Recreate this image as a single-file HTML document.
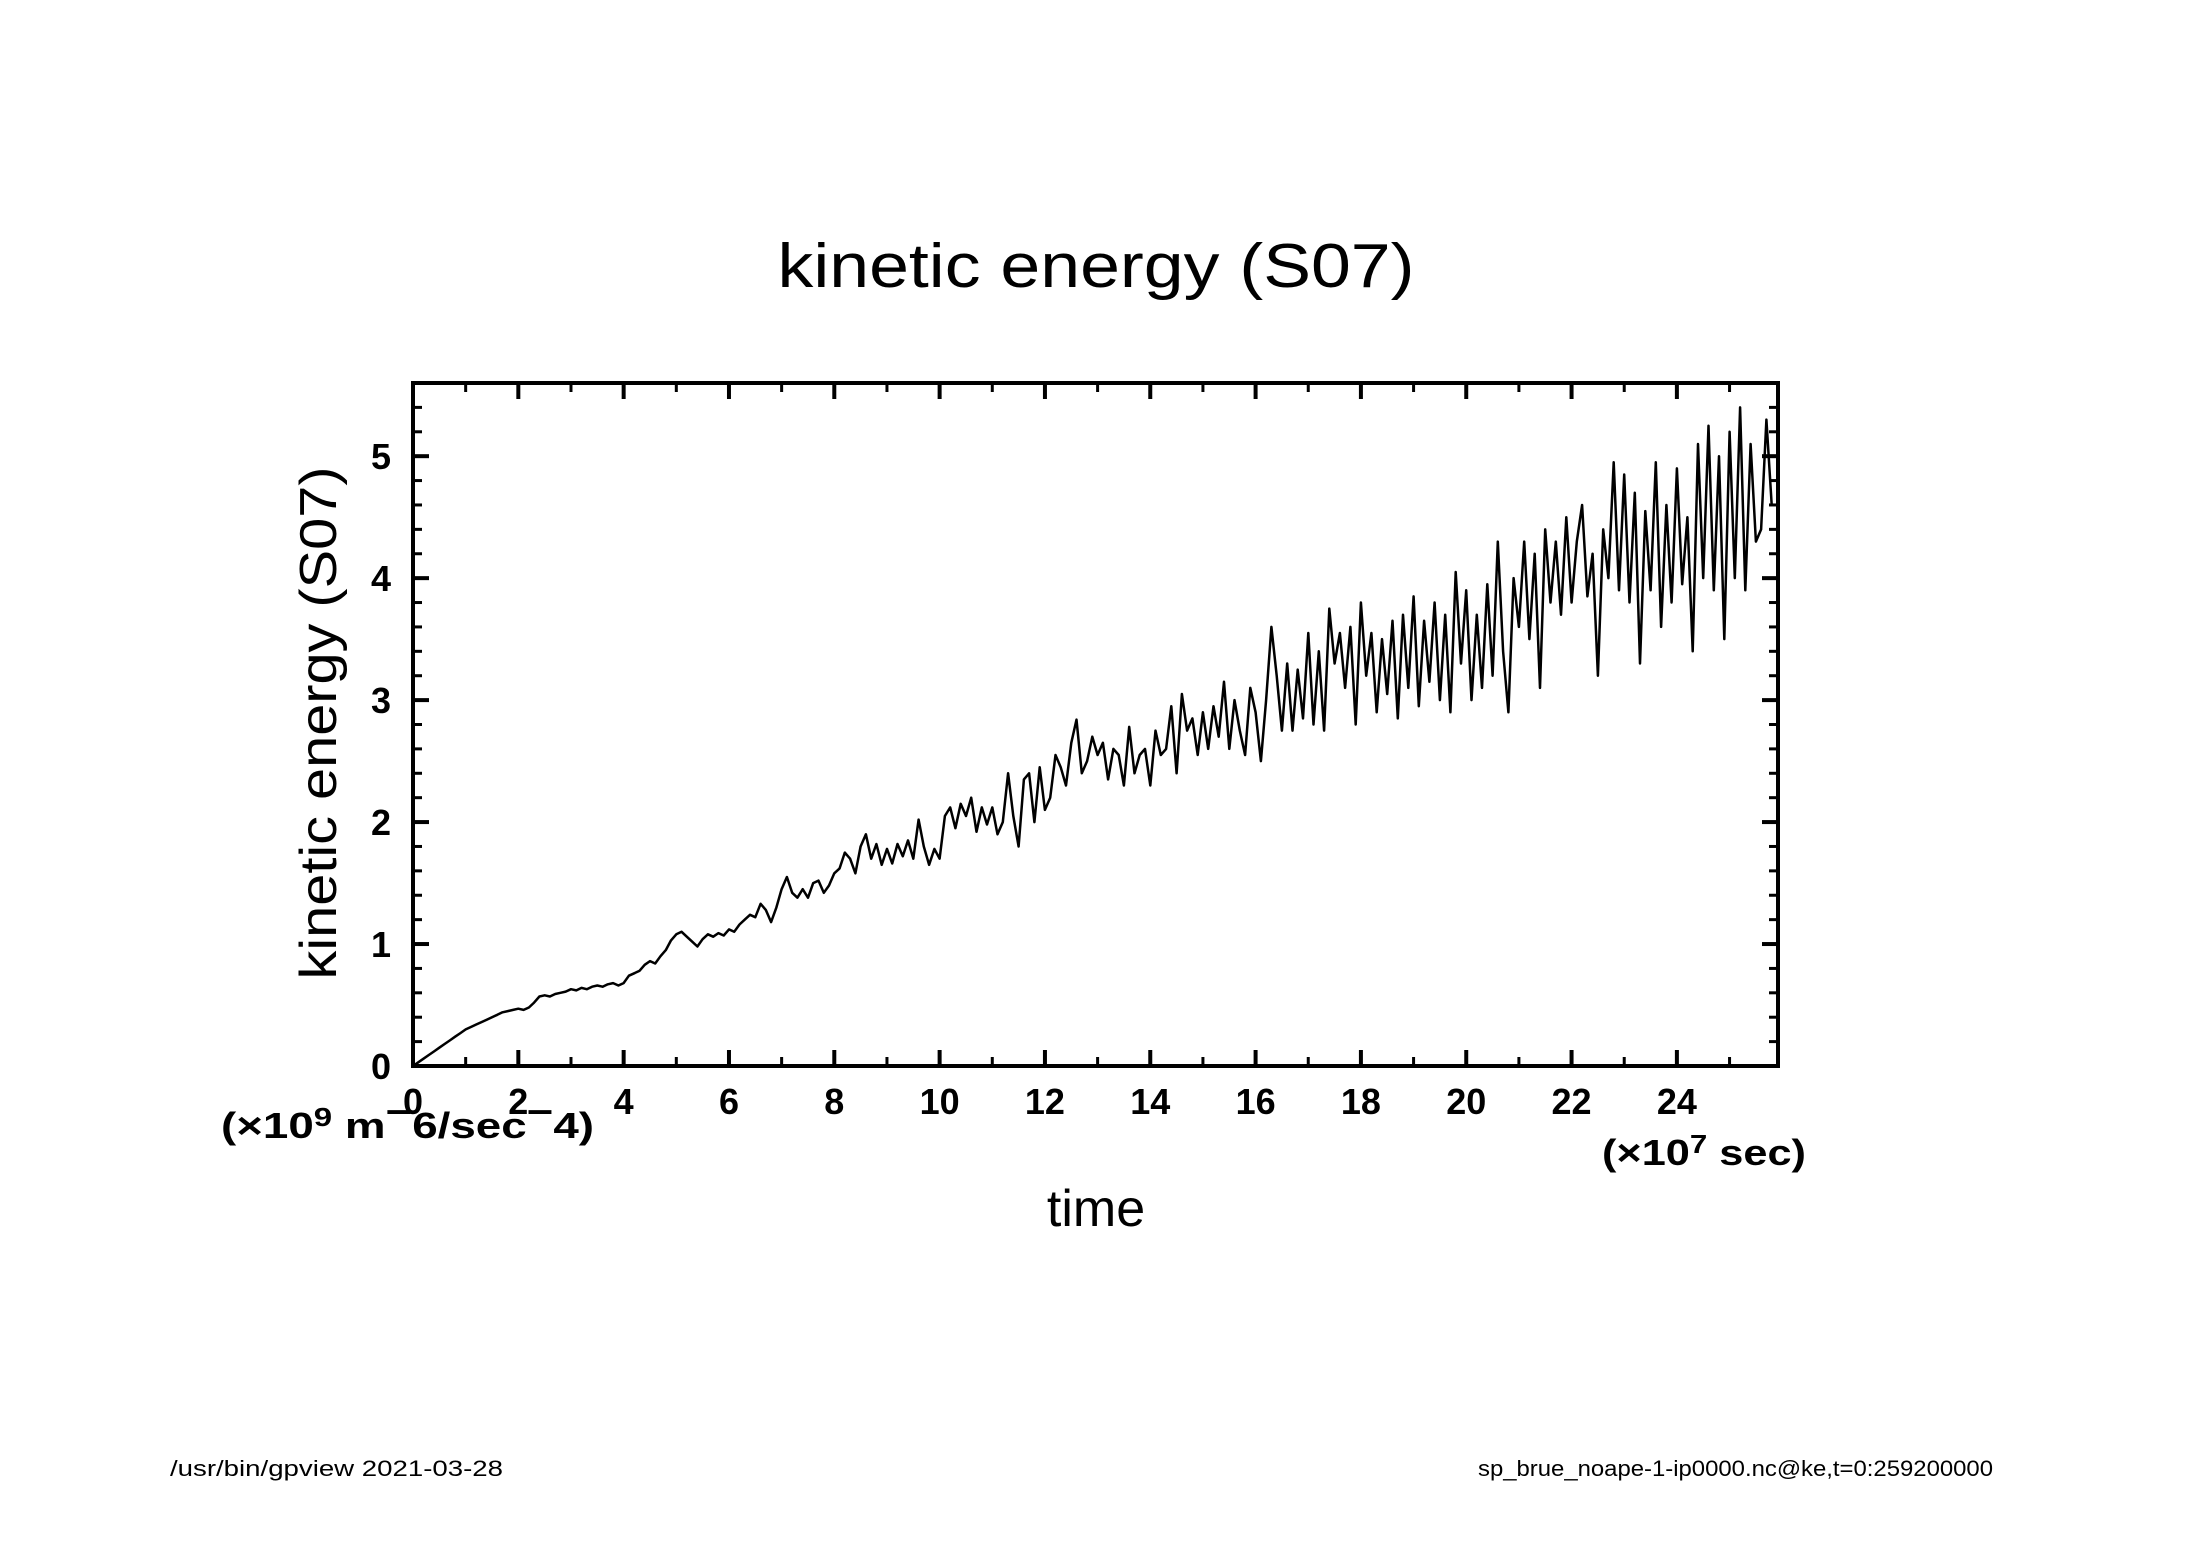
<!DOCTYPE html>
<html><head><meta charset="utf-8"><style>
html,body{margin:0;padding:0;background:#fff;}
svg{display:block;font-family:"Liberation Sans",sans-serif;}
</style></head><body>
<svg id="chart" width="2188" height="1546" viewBox="0 0 2188 1546" xmlns="http://www.w3.org/2000/svg">
<rect x="0" y="0" width="2188" height="1546" fill="#fff"/>
<text x="1096" y="287" font-size="62" text-anchor="middle" textLength="637" lengthAdjust="spacingAndGlyphs">kinetic energy (S07)</text>
<g id="axes"></g>
<text transform="translate(336,723) rotate(-90)" font-size="52" text-anchor="middle" textLength="513" lengthAdjust="spacingAndGlyphs">kinetic energy (S07)</text>
<text x="221" y="1138" font-size="36" font-weight="bold" textLength="373" lengthAdjust="spacingAndGlyphs">(×10<tspan font-size="26" dy="-12">9</tspan><tspan dy="12"> m</tspan><tspan dy="-14">−</tspan><tspan dy="14">6/sec</tspan><tspan dy="-14">−</tspan><tspan dy="14">4)</tspan></text>
<text x="1602" y="1165" font-size="36" font-weight="bold" textLength="204" lengthAdjust="spacingAndGlyphs">(×10<tspan font-size="26" dy="-12">7</tspan><tspan dy="12"> sec)</tspan></text>
<text x="1096" y="1226" font-size="52" text-anchor="middle">time</text>
<text x="170" y="1476" font-size="22" textLength="333" lengthAdjust="spacingAndGlyphs">/usr/bin/gpview  2021-03-28</text>
<text x="1478" y="1476" font-size="22" textLength="515" lengthAdjust="spacingAndGlyphs">sp_brue_noape-1-ip0000.nc@ke,t=0:259200000</text>
</svg>
<script>
const xStep = 0.1;
const xTickLabels = ["0","2","4","6","8","10","12","14","16","18","20","22","24"];
const yTickLabels = ["0","1","2","3","4","5"];
const keValues = [
0,0.03,0.06,0.09,0.12,0.15,0.18,0.21,0.24,0.27,
0.3,0.32,0.34,0.36,0.38,0.40,0.42,0.44,0.45,0.46,
0.47,0.46,0.48,0.52,0.57,0.58,0.57,0.59,0.60,0.61,
0.63,0.62,0.64,0.63,0.65,0.66,0.65,0.67,0.68,0.66,
0.68,0.74,0.76,0.78,0.83,0.86,0.84,0.90,0.95,1.03,
1.08,1.10,1.06,1.02,0.98,1.04,1.08,1.06,1.09,1.07,
1.12,1.10,1.16,1.20,1.24,1.22,1.33,1.28,1.18,1.30,
1.45,1.55,1.42,1.38,1.45,1.38,1.50,1.52,1.42,1.48,
1.58,1.62,1.75,1.70,1.58,1.80,1.90,1.70,1.82,1.65,
1.78,1.66,1.82,1.72,1.85,1.70,2.02,1.80,1.65,1.78,
1.70,2.05,2.12,1.95,2.15,2.05,2.20,1.92,2.12,1.98,
2.12,1.90,2.00,2.40,2.05,1.80,2.35,2.40,2.00,2.45,
2.10,2.20,2.55,2.45,2.30,2.65,2.84,2.40,2.50,2.70,
2.55,2.65,2.35,2.60,2.55,2.30,2.78,2.40,2.55,2.60,
2.30,2.75,2.55,2.60,2.95,2.40,3.05,2.75,2.85,2.55,
2.90,2.60,2.95,2.70,3.15,2.60,3.00,2.75,2.55,3.10,
2.90,2.50,3.00,3.60,3.20,2.75,3.30,2.75,3.25,2.85,
3.55,2.80,3.40,2.75,3.75,3.30,3.55,3.10,3.60,2.80,
3.80,3.20,3.55,2.90,3.50,3.05,3.65,2.85,3.70,3.10,
3.85,2.95,3.65,3.15,3.80,3.00,3.70,2.90,4.05,3.30,
3.90,3.00,3.70,3.10,3.95,3.20,4.30,3.40,2.90,4.00,
3.60,4.30,3.50,4.20,3.10,4.40,3.80,4.30,3.70,4.50,
3.80,4.30,4.60,3.85,4.20,3.20,4.40,4.00,4.95,3.90,
4.85,3.80,4.70,3.30,4.55,3.90,4.95,3.60,4.60,3.80,
4.90,3.95,4.50,3.40,5.10,4.00,5.25,3.90,5.00,3.50,
5.20,4.00,5.40,3.90,5.10,4.30,4.40,5.30,4.60
];
const L=413,R=1778,T=383,B=1066,XMAX=25.92,YMAX=5.6;
const NS="http://www.w3.org/2000/svg";
function sx(v){return L+(v/XMAX)*(R-L);}
function sy(v){return B-(v/YMAX)*(B-T);}
const svg=document.getElementById('chart');
const g=document.getElementById('axes');
function mk(tag,attrs,parent){const e=document.createElementNS(NS,tag);for(const k in attrs)e.setAttribute(k,attrs[k]);(parent||g).appendChild(e);return e;}
let d='';
keValues.forEach((v,i)=>{d+=(i?'L':'M')+sx(i*xStep).toFixed(1)+' '+sy(v).toFixed(1);});
const line=mk('path',{d:d,fill:'none',stroke:'#000','stroke-width':2.5,'stroke-linejoin':'round'},svg);


const fr=mk('rect',{x:L,y:T,width:R-L,height:B-T,fill:'none',stroke:'#000','stroke-width':4});


for(let v=0;v<=25;v++){
  const major=v%2===0,len=major?16:9,x=sx(v);
  const t1=mk('line',{x1:x,y1:B,x2:x,y2:B-len,stroke:'#000','stroke-width':major?4:3});
  
  
  const t2=mk('line',{x1:x,y1:T,x2:x,y2:T+len,stroke:'#000','stroke-width':major?4:3});
  
  
}
xTickLabels.forEach((s,i)=>{
  const t=mk('text',{x:sx(i*2),y:1114,'font-size':36,'font-weight':'bold','text-anchor':'middle'});
  t.textContent=s;
  
  
});
for(let k=0;k<=28;k++){
  const v=k*0.2,major=k%5===0,len=major?16:9,y=sy(v);
  const t1=mk('line',{x1:L,y1:y,x2:L+len,y2:y,stroke:'#000','stroke-width':major?4:3});
  
  
  const t2=mk('line',{x1:R,y1:y,x2:R-len,y2:y,stroke:'#000','stroke-width':major?4:3});
  
  
}
yTickLabels.forEach((s,i)=>{
  const t=mk('text',{x:391,y:sy(i)+13,'font-size':36,'font-weight':'bold','text-anchor':'end'});
  t.textContent=s;
  
  
});
</script>
</body></html>
